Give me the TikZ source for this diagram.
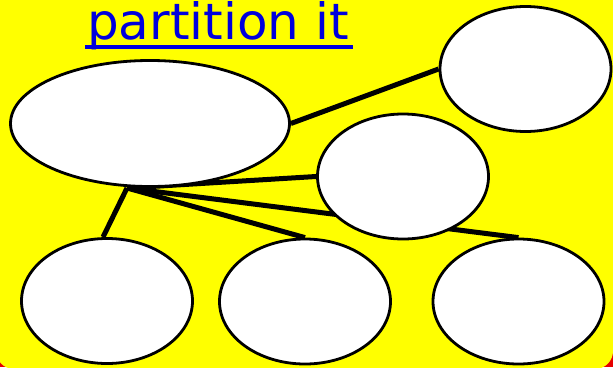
\documentclass[tikz,border=0pt]{standalone}
\usepackage{fontspec}
\setmainfont{DejaVu Sans}
\usetikzlibrary{shapes.geometric}

\pgfdeclarelayer{back}
\pgfdeclarelayer{lines}
\pgfsetlayers{back,lines,main}

\definecolor{slideyellow}{RGB}{255,255,0}
\definecolor{slidered}{RGB}{230,0,0}
\definecolor{titleblue}{RGB}{0,0,220}

\begin{document}
\begin{tikzpicture}[x=1pt, y=-1pt,
    bubble/.style={ellipse, draw=black, line width=2.8pt, fill=white,
        inner sep=0pt, minimum width=171pt, minimum height=125pt},
    link/.style={line width=5pt, black}]

    \useasboundingbox (0,0) rectangle (613,367);

    % ==========================================
    % 1. SLIDE BACKGROUND
    % ==========================================
    \begin{pgfonlayer}{back}
        \fill[slidered] (0,0) rectangle (613,367);
        \fill[slideyellow, rounded corners=18pt] (-4,-30) rectangle (613,369);
    \end{pgfonlayer}

    % ==========================================
    % 2. TITLE
    % ==========================================
    \node[font=\fontsize{50}{52}\selectfont, text=titleblue, anchor=base west,
        inner sep=0pt] (title) at (87,39) {partition it};
    \draw[titleblue, line width=4.5pt]
        ([xshift=-2pt, yshift=-8pt]title.base west) -- ([xshift=4pt, yshift=-8pt]title.base east);

    % ==========================================
    % 3. BUBBLES
    % ==========================================
    \node[bubble, minimum width=279pt, minimum height=126pt] (whole) at (150,123.5) {};
    \node[bubble] (topright) at (525.5,69) {};
    \node[bubble] (middle) at (403,176.5) {};
    \node[bubble] (partA) at (107,301) {};
    \node[bubble] (partB) at (305,301.5) {};
    \node[bubble] (partC) at (518.5,301.5) {};

    % Meeting point of the lower links
    \coordinate (hub) at (127,188);

    % ==========================================
    % 4. LINKS (behind the bubbles)
    % ==========================================
    \begin{pgfonlayer}{lines}
        \draw[link] (whole.east) -- (topright.west);
        \draw[link] (hub) -- ([xshift=-4pt]partA.north);
        \draw[link] (hub) -- (middle.west);
        \draw[link] (hub) -- (partB.north);
        \draw[link] (hub) -- (partC.north);
    \end{pgfonlayer}

\end{tikzpicture}
\end{document}
